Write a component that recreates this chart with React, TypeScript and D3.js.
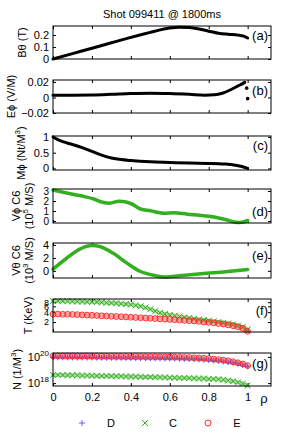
import { useEffect, useRef } from 'react';
import * as d3 from 'd3';

const title = 'Shot 099411 @ 1800ms';
const rhoTicks = [0, 0.2, 0.4, 0.6, 0.8, 1];

// (a) B theta
const bthRho = [0, 0.1, 0.2, 0.3, 0.4, 0.5, 0.55, 0.6, 0.65, 0.7, 0.75, 0.8, 0.85, 0.9, 0.95, 0.98, 1.0];
const bthVal = [0, 0.045, 0.089, 0.135, 0.18, 0.222, 0.243, 0.258, 0.265, 0.262, 0.25, 0.232, 0.215, 0.206, 0.199, 0.19, 0.175];

// (b) E phi
const ephiRho = [0, 0.1, 0.2, 0.3, 0.4, 0.5, 0.6, 0.7, 0.78, 0.83, 0.87, 0.91, 0.94, 0.96, 0.985];
const ephiVal = [0.003, 0.003, 0.0032, 0.004, 0.005, 0.0055, 0.005, 0.004, 0.003, 0.0035, 0.0055, 0.0096, 0.0135, 0.016, 0.0195];
const ephiDotRho = [0.995, 1.0];
const ephiDotVal = [0.012, -0.0015];

// (c) M phi
const mphiRho = [0, 0.02, 0.05, 0.1, 0.15, 0.2, 0.25, 0.3, 0.35, 0.4, 0.5, 0.6, 0.7, 0.8, 0.88, 0.93, 0.97, 1.0];
const mphiVal = [1.0, 0.93, 0.85, 0.76, 0.66, 0.54, 0.42, 0.33, 0.28, 0.25, 0.21, 0.19, 0.17, 0.16, 0.14, 0.11, 0.06, 0.0];

// (d) V phi C6
const vphiRho = [0, 0.07, 0.12, 0.16, 0.21, 0.24, 0.29, 0.34, 0.4, 0.45, 0.5, 0.57, 0.62, 0.69, 0.76, 0.82, 0.89, 0.93, 0.96, 1.0];
const vphiVal = [3.1, 2.8, 2.6, 2.45, 2.2, 1.95, 1.78, 1.98, 1.75, 1.2, 1.02, 0.78, 0.82, 0.68, 0.56, 0.43, 0.12, -0.1, -0.15, 0.05];

// (e) V theta C6
const vthRho = [0, 0.07, 0.14, 0.2, 0.24, 0.31, 0.38, 0.45, 0.52, 0.58, 0.65, 0.76, 0.86, 1.0];
const vthVal = [0.26, 1.95, 3.4, 3.9, 3.75, 2.7, 1.2, -0.1, -0.7, -0.95, -0.75, -0.45, -0.2, 0.2];

// (f), (g) profiles on a 0.025 rho grid
const rhoGrid = d3.range(41).map(i => i * 0.025);
const tempC = [8.7, 8.65, 8.6, 8.55, 8.5, 8.4, 8.35, 8.25, 8.15, 8.05, 7.9, 7.75, 7.6, 7.4, 7.2, 7.0, 6.75, 6.4, 6.0, 5.5, 4.9,
  4.3, 3.8, 3.5, 3.3, 3.1, 2.95, 2.8, 2.65, 2.5, 2.4, 2.3, 2.2, 2.1, 2.0, 1.9, 1.8, 1.7, 1.55, 1.4, 1.2];
const tempE = [3.5, 3.5, 3.45, 3.45, 3.4, 3.35, 3.3, 3.25, 3.2, 3.15, 3.1, 3.05, 3.0, 2.95, 2.9, 2.85, 2.8, 2.75, 2.7, 2.65, 2.6,
  2.55, 2.5, 2.45, 2.4, 2.35, 2.3, 2.25, 2.2, 2.15, 2.1, 2.0, 1.95, 1.9, 1.8, 1.75, 1.65, 1.55, 1.45, 1.3, 1.05];
// densities, 1e19 /m^3 for D and E, 1e18 /m^3 for C
const densD = [9.3, 9.3, 9.2, 9.2, 9.1, 9.0, 9.0, 8.9, 8.9, 8.8, 8.7, 8.7, 8.6, 8.5, 8.5, 8.4, 8.3, 8.2, 8.2, 8.1, 8.0,
  7.9, 7.9, 7.8, 7.7, 7.6, 7.4, 7.2, 7.0, 6.8, 6.5, 6.2, 5.8, 5.4, 5.0, 4.5, 4.0, 3.5, 3.0, 2.4, 1.9];
const densE = [12, 12, 11.9, 11.9, 11.8, 11.7, 11.6, 11.6, 11.5, 11.4, 11.3, 11.2, 11.1, 11.0, 10.9, 10.8, 10.7, 10.6, 10.5, 10.4, 10.3,
  10.2, 10.1, 10.0, 9.9, 9.7, 9.5, 9.3, 9.0, 8.7, 8.3, 7.9, 7.4, 6.9, 6.3, 5.7, 5.0, 4.3, 3.6, 2.9, 2.2];
const densC = [4.2, 4.15, 4.1, 4.0, 3.95, 3.9, 3.8, 3.75, 3.7, 3.6, 3.55, 3.5, 3.4, 3.35, 3.3, 3.2, 3.15, 3.1, 3.0, 2.95, 2.9,
  2.8, 2.75, 2.7, 2.6, 2.55, 2.5, 2.45, 2.4, 2.3, 2.25, 2.2, 2.1, 2.05, 1.95, 1.8, 1.6, 1.4, 1.15, 0.9, 0.65];

const legendNames = ['D', 'C', 'E'];

const FONT = 'Liberation Sans, Arial, sans-serif';
const GREEN = '#33b020';
const RED = '#ff2a2a';
const BLUE = '#5566ff';

const App = () => {
  const ref = useRef<SVGSVGElement>(null!);

  useEffect(() => {
    const W = 282;
    const H = 434;
    const left = 53;
    const right = 271;
    const svg = d3.select(ref.current);
    svg.attr('width', W).attr('height', H).attr('font-family', FONT);

    const x = d3.scaleLinear().domain([0, 1.12]).range([left, right]);

    svg
      .append('text')
      .attr('x', 162)
      .attr('y', 18)
      .attr('text-anchor', 'middle')
      .attr('font-size', 11)
      .text(title);

    const sup = (t: d3.Selection<SVGTextElement, unknown, null, undefined>, base: string, exp: string, rest: string) => {
      t.append('tspan').text(base);
      t.append('tspan').attr('font-size', 8).attr('dy', -4).text(exp);
      t.append('tspan').attr('dy', 4).text(rest);
    };

    const panels: any[] = [
      { tag: '(a)', top: 26, bottom: 59, y: d3.scaleLinear().domain([0, 0.275]), ticks: [0, 0.1, 0.2], tagY: 35, fs: 11,
        labels: [{ x: 22, parts: ['Bθ (T)'] }] },
      { tag: '(b)', top: 80, bottom: 113, y: d3.scaleLinear().domain([-0.02, 0.0225]), ticks: [-0.02, 0, 0.02], tagY: 90, fs: 11,
        labels: [{ x: 11, parts: ['Eϕ (V/M)'] }] },
      { tag: '(c)', top: 136, bottom: 170, y: d3.scaleLinear().domain([-0.05, 1.03]), ticks: [0, 0.5, 1], tagY: 145, fs: 11,
        labels: [{ x: 21, parts: ['Mϕ (Nt/M', '3', ')'] }] },
      { tag: '(d)', top: 189, bottom: 223, y: d3.scaleLinear().domain([-0.2, 3.2]), ticks: [0, 1, 2, 3], tagY: 211, fs: 10,
        labels: [{ x: 16, parts: ['Vϕ C6'] }, { x: 29, parts: ['(10', '5', ' M/S)'] }] },
      { tag: '(e)', top: 243, bottom: 278, y: d3.scaleLinear().domain([-1.1, 4.3]), ticks: [0, 2, 4], tagY: 255, fs: 11,
        labels: [{ x: 16, parts: ['Vθ C6'] }, { x: 29, parts: ['(10', '3', ' M/S)'] }] },
      { tag: '(f)', top: 299, bottom: 332, y: d3.scaleLog().domain([1, 10]), ticks: [2, 4, 6, 8], tagY: 310, fs: 9,
        labels: [{ x: 28, parts: ['T (KeV)'] }] },
      { tag: '(g)', top: 353, bottom: 386, y: d3.scaleLog().domain([6e17, 2e20]), ticks: [1e18, 1e20], tagY: 363, fs: 11,
        labels: [{ x: 17, parts: ['N (1/M', '3', ')'] }] },
    ];

    panels.forEach((p, pi) => {
      const y = p.y.range([p.bottom, p.top]);
      const g = svg.append('g');
      const isLog = pi >= 5;

      const leftAxis = d3
        .axisLeft(y)
        .tickValues(p.ticks)
        .tickSize(-3)
        .tickPadding(4)
        .tickFormat((d: any) => (isLog ? '' : d3.format('')(d).replace('-', '−')));
      const la = g.append('g').attr('transform', `translate(${left},0)`).call(leftAxis);
      la.attr('font-size', p.fs).attr('font-family', FONT);
      if (pi === 5) la.selectAll('text').text((d: any) => String(d));
      if (pi === 6) {
        la.selectAll<SVGTextElement, number>('text').each(function (d) {
          const t = d3.select(this);
          t.text(null);
          t.append('tspan').text('10');
          t.append('tspan').attr('font-size', 8).attr('dy', -5).text(String(Math.round(Math.log10(d))));
        });
      }
      g.append('g')
        .attr('transform', `translate(${right},0)`)
        .call(d3.axisRight(y).tickValues(p.ticks).tickSize(-3).tickFormat(() => ''));
      g.append('g')
        .attr('transform', `translate(0,${p.top})`)
        .call(d3.axisTop(x).tickValues(rhoTicks).tickSize(-3).tickFormat(() => ''));
      const ba = g
        .append('g')
        .attr('transform', `translate(0,${p.bottom})`)
        .call(
          d3
            .axisBottom(x)
            .tickValues(rhoTicks)
            .tickSize(-3)
            .tickPadding(7)
            .tickFormat((d: any) => (pi === 6 ? String(d) : ''))
        );
      ba.attr('font-size', 11).attr('font-family', FONT);
      g.selectAll('.domain').remove();
      g.selectAll('.tick line').attr('stroke', '#000');

      p.labels.forEach((l: any) => {
        const t = g
          .append('text')
          .attr('transform', `translate(${l.x},${(p.top + p.bottom) / 2}) rotate(-90)`)
          .attr('text-anchor', 'middle')
          .attr('dominant-baseline', 'central')
          .attr('font-size', 11);
        if (l.parts.length === 1) t.text(l.parts[0]);
        else sup(t, l.parts[0], l.parts[1], l.parts[2]);
      });

      g.append('text')
        .attr('x', 268)
        .attr('y', p.tagY)
        .attr('text-anchor', 'end')
        .attr('dominant-baseline', 'central')
        .attr('font-size', 13)
        .text(p.tag);

      const drawLine = (rho: number[], vals: number[], color: string, w: number, opacity = 1) => {
        const line = d3
          .line<number>()
          .x((_, i) => x(rho[i]))
          .y(v => y(v))
          .curve(d3.curveMonotoneX);
        g.append('path')
          .attr('d', line(vals))
          .attr('fill', 'none')
          .attr('stroke', color)
          .attr('stroke-opacity', opacity)
          .attr('stroke-width', w)
          .attr('stroke-linecap', 'round')
          .attr('stroke-linejoin', 'round');
      };

      const drawMarkers = (vals: number[], kind: string, scale = 1) => {
        const color = kind === 'plus' ? BLUE : kind === 'cross' ? GREEN : RED;
        // soft band behind the dense markers
        drawLine(rhoGrid, vals.map(v => v * scale), color, 4, 0.45);
        const sel = g
          .append('g')
          .selectAll('path')
          .data(vals)
          .enter()
          .append('path')
          .attr('transform', (v, i) => `translate(${x(rhoGrid[i])},${y(v * scale)})`)
          .attr('fill', 'none')
          .attr('stroke', color)
          .attr('stroke-width', 1);
        if (kind === 'plus') sel.attr('d', 'M-3,0H3M0,-3V3');
        else if (kind === 'cross') sel.attr('d', 'M-3,-3L3,3M-3,3L3,-3');
        else sel.attr('d', d3.symbol(d3.symbolCircle, 26)() as string);
      };

      if (pi === 0) drawLine(bthRho, bthVal, '#000', 3);
      if (pi === 1) {
        drawLine(ephiRho, ephiVal, '#000', 3);
        g.selectAll('circle.dot')
          .data(ephiDotVal)
          .enter()
          .append('circle')
          .attr('cx', (_, i) => x(ephiDotRho[i]))
          .attr('cy', v => y(v))
          .attr('r', 1.8)
          .attr('fill', '#000');
      }
      if (pi === 2) drawLine(mphiRho, mphiVal, '#000', 3);
      if (pi === 3) drawLine(vphiRho, vphiVal, GREEN, 3.5);
      if (pi === 4) drawLine(vthRho, vthVal, GREEN, 3.5);
      if (pi === 5) {
        drawMarkers(tempC, 'cross');
        drawMarkers(tempE, 'circle');
      }
      if (pi === 6) {
        drawMarkers(densD, 'plus', 1e19);
        drawMarkers(densC, 'cross', 1e18);
        drawMarkers(densE, 'circle', 1e19);
      }

      g.append('rect')
        .attr('x', left)
        .attr('y', p.top)
        .attr('width', right - left)
        .attr('height', p.bottom - p.top)
        .attr('fill', 'none')
        .attr('stroke', '#000')
        .attr('stroke-width', 1);
    });

    svg
      .append('text')
      .attr('x', 264)
      .attr('y', 403)
      .attr('text-anchor', 'middle')
      .attr('font-size', 13)
      .text('ρ');

    // legend
    const legX = [82, 145, 208];
    const legTextX = [111, 173, 237];
    const legY = 423;
    const lg = svg.append('g');
    lg.append('path').attr('d', `M${legX[0] - 3},${legY}H${legX[0] + 3}M${legX[0]},${legY - 3}V${legY + 3}`).attr('stroke', BLUE).attr('fill', 'none');
    lg.append('path')
      .attr('d', `M${legX[1] - 3},${legY - 3}L${legX[1] + 3},${legY + 3}M${legX[1] - 3},${legY + 3}L${legX[1] + 3},${legY - 3}`)
      .attr('stroke', GREEN)
      .attr('fill', 'none');
    lg.append('circle').attr('cx', legX[2]).attr('cy', legY).attr('r', 3).attr('stroke', RED).attr('fill', 'none');
    legendNames.forEach((n, i) => {
      lg.append('text')
        .attr('x', legTextX[i])
        .attr('y', legY)
        .attr('text-anchor', 'middle')
        .attr('dominant-baseline', 'central')
        .attr('font-size', 11)
        .text(n);
    });

    return () => {
      ref.current.innerHTML = '';
    };
  }, []);

  return <svg ref={ref} style={{ position: 'absolute', left: 0, top: 0 }}></svg>;
};

export default App;
